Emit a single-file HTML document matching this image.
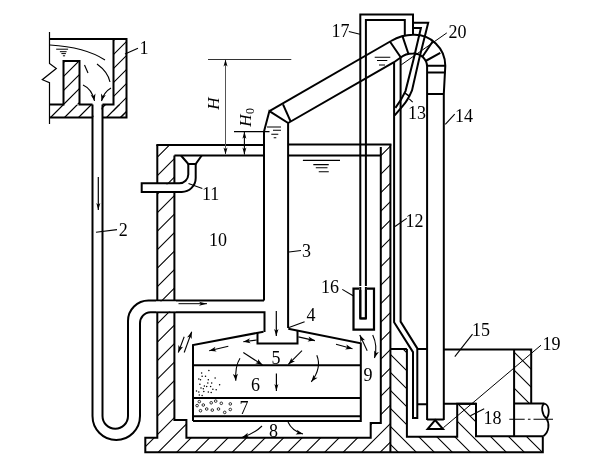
<!DOCTYPE html>
<html><head><meta charset="utf-8"><style>
html,body{margin:0;padding:0;background:#fff;}
svg{display:block;will-change:transform;}
text{font-family:"Liberation Serif",serif;fill:#000;stroke:none;}
</style></head><body>
<svg width="600" height="470" viewBox="0 0 600 470">
<defs><clipPath id="c1"><polygon points="113.5,39 126.5,39 126.5,117.5 113.5,117.5"/></clipPath><clipPath id="c2"><polygon points="49.5,104.5 126.5,104.5 126.5,117.5 49.5,117.5"/></clipPath><clipPath id="c3"><polygon points="63.5,61 79.5,61 79.5,104.5 63.5,104.5"/></clipPath><clipPath id="c4"><polygon points="157.3,145 174.4,145 174.4,420 186.4,420 186.4,437.7 370.7,437.7 370.7,423 380.8,423 380.8,144.4 390.4,144.4 390.4,452.2 145.3,452.2 145.3,437.7 157.3,437.7"/></clipPath><clipPath id="c5"><polygon points="390.4,349.1 406.9,349.1 406.9,436.7 457.2,436.7 457.2,403.8 476,403.8 476,436.2 542.8,436.2 542.8,452.2 390.4,452.2"/></clipPath><clipPath id="c6"><polygon points="514.1,349.4 531.2,349.4 531.2,403.3 514.1,403.3"/></clipPath></defs>
<rect width="600" height="470" fill="#fff"/>
<g stroke="#000" fill="none" stroke-linecap="butt" stroke-linejoin="miter">
<path d="M49.5,32 V63.5 L56.3,68.5 L42.3,79.7 L49.5,82.7 V124" stroke-width="1.2" fill="none"/>
<path d="M101,39 L22.5,117.5 M115,39 L36.5,117.5 M129,39 L50.5,117.5 M143,39 L64.5,117.5 M157,39 L78.5,117.5 M171,39 L92.5,117.5 M185,39 L106.5,117.5 M199,39 L120.5,117.5 M213,39 L134.5,117.5" stroke-width="1.1" clip-path="url(#c1)"/>
<path d="M49.5,104.5 L36.5,117.5 M63.5,104.5 L50.5,117.5 M77.5,104.5 L64.5,117.5 M91.5,104.5 L78.5,117.5 M105.5,104.5 L92.5,117.5 M119.5,104.5 L106.5,117.5 M133.5,104.5 L120.5,117.5 M147.5,104.5 L134.5,117.5" stroke-width="1.1" clip-path="url(#c2)"/>
<path d="M51,61 L7.5,104.5 M65,61 L21.5,104.5 M79,61 L35.5,104.5 M93,61 L49.5,104.5 M107,61 L63.5,104.5 M121,61 L77.5,104.5 M135,61 L91.5,104.5" stroke-width="1.1" clip-path="url(#c3)"/>
<rect x="93.5" y="103.5" width="8" height="15" fill="#fff" stroke="none"/>
<path d="M49.5,39 H126.5 V117.5 H102.5 M92.5,117.5 H49.5" stroke-width="2" fill="none"/>
<path d="M49.5,104.5 H63.5 V61 H79.5 V104.5 H92.5 M102.5,104.5 H113.5 V39" stroke-width="2" fill="none"/>
<path d="M50,45 Q85,47 105,60" stroke-width="1.1" fill="none"/>
<path d="M56.2,49.2 H68.1 M59.9,51.7 H66.6 M61.4,53.6 H65.9 M62.9,55.8 H65.1" stroke-width="1" fill="none"/>
<path d="M84.5,65 L88,73" stroke-width="1.1" fill="none"/>
<path d="M97,64 Q108,72 110,82" stroke-width="1.1" fill="none"/>
<path d="M83,85 Q92,89 94.5,101" stroke-width="1.1" fill="none"/>
<path d="M94.5,101.0 L90.6,94.7 L93.4,95.9 L95.5,93.6 Z" fill="#000" stroke="none"/>
<path d="M111,88 Q104,92 101.5,101" stroke-width="1.1" fill="none"/>
<path d="M101.5,101.0 L101.0,93.6 L102.9,95.9 L105.8,94.9 Z" fill="#000" stroke="none"/>
<line x1="125" y1="54" x2="138" y2="48.3" stroke-width="1.1"/>
<text x="139.5" y="54" font-size="18" text-anchor="start">1</text>
<path d="M92.5,104.5 V416 A23.75,24 0 0 0 140,416 V324 A10.5,11.3 0 0 1 150.5,312.2 H264.5 V332" stroke-width="2" fill="none"/>
<path d="M102.5,104.5 V416 A12.75,12.75 0 0 0 128,416 V321 A20.5,20.5 0 0 1 148.5,300.5 H264" stroke-width="2" fill="none"/>
<line x1="98.3" y1="177" x2="98.3" y2="210" stroke-width="1.2"/>
<path d="M98.3,210.0 L96.3,203.0 L98.3,204.8 L100.3,203.0 Z" fill="#000" stroke="none"/>
<line x1="96" y1="232.3" x2="117" y2="229.6" stroke-width="1.1"/>
<text x="118.7" y="235.6" font-size="18" text-anchor="start">2</text>
<path d="M133.1,144.4 L-174.7,452.2 M151.6,144.4 L-156.2,452.2 M170.1,144.4 L-137.7,452.2 M188.6,144.4 L-119.19999999999999,452.2 M207.1,144.4 L-100.69999999999999,452.2 M225.6,144.4 L-82.19999999999999,452.2 M244.1,144.4 L-63.69999999999999,452.2 M262.6,144.4 L-45.19999999999999,452.2 M281.1,144.4 L-26.69999999999999,452.2 M299.6,144.4 L-8.199999999999989,452.2 M318.1,144.4 L10.300000000000011,452.2 M336.6,144.4 L28.80000000000001,452.2 M355.1,144.4 L47.30000000000001,452.2 M373.6,144.4 L65.80000000000001,452.2 M392.1,144.4 L84.30000000000001,452.2 M410.6,144.4 L102.80000000000001,452.2 M429.1,144.4 L121.30000000000001,452.2 M447.6,144.4 L139.8,452.2 M466.1,144.4 L158.3,452.2 M484.6,144.4 L176.8,452.2 M503.1,144.4 L195.3,452.2 M521.6,144.4 L213.8,452.2 M540.1,144.4 L232.3,452.2 M558.6,144.4 L250.8,452.2 M577.1,144.4 L269.3,452.2 M595.6,144.4 L287.8,452.2 M614.1,144.4 L306.3,452.2 M632.6,144.4 L324.8,452.2 M651.1,144.4 L343.3,452.2 M669.6,144.4 L361.8,452.2 M688.1,144.4 L380.3,452.2 M706.6,144.4 L398.8,452.2" stroke-width="1.1" clip-path="url(#c4)"/>
<rect x="156" y="301.5" width="20" height="9.7" fill="#fff" stroke="none"/>
<rect x="156" y="184.3" width="20" height="7" fill="#fff" stroke="none"/>
<path d="M156.3,145 H264 M288,144.4 H391.4" stroke-width="2" fill="none"/>
<path d="M174.4,155.5 H264 M288,155.5 H380.8" stroke-width="2" fill="none"/>
<path d="M157.3,145 V183.3 M157.3,192 V300.5 M157.3,312.2 V437.7 H145.3 V452.2 H542.8 V436.4" stroke-width="2" fill="none"/>
<path d="M174.4,155.5 V183.3 M174.4,192 V300.5 M174.4,312.2 V420 H186.4 V437.7 H370.7 V423 H380.8 V147" stroke-width="2" fill="none"/>
<path d="M390.4,144.4 V452.2" stroke-width="2" fill="none"/>
<path d="M181,155.5 L188.3,164 H195.7 L201.7,155.5" stroke-width="2" fill="none"/>
<path d="M188.3,164 V174.5 A9,9 0 0 1 179.3,183.3 H141.7 V192 H181.7 A14,14 0 0 0 195.7,178 V164" stroke-width="2" fill="none"/>
<line x1="188.5" y1="183.5" x2="202.3" y2="188.4" stroke-width="1.1"/>
<text x="202" y="200.3" font-size="18" text-anchor="start">11</text>
<text x="209" y="245.8" font-size="18" text-anchor="start">10</text>
<path d="M264,131.5 L269.4,111.1 L288.1,123 V328" stroke-width="2" fill="none"/>
<path d="M264,131.5 V300.5" stroke-width="2" fill="none"/>
<path d="M283,104.3 L290.6,121.3" stroke-width="2" fill="none"/>
<line x1="234" y1="131.6" x2="269.5" y2="131.6" stroke-width="1.1"/>
<path d="M267,127 H281 M273,130.3 H281 M271.3,134.3 H278.3 M273.7,137.7 H276.3" stroke-width="1.1" fill="none"/>
<path d="M302.9,160.4 H340 M313.3,164.6 H328.75 M315.8,167.7 H327.5 M318.75,171.8 H328.75" stroke-width="1.1" fill="none"/>
<line x1="289" y1="252" x2="301" y2="250.5" stroke-width="1.1"/>
<text x="302" y="256.5" font-size="18" text-anchor="start">3</text>
<line x1="208" y1="59.5" x2="291.3" y2="59.5" stroke-width="1" stroke="#333"/>
<line x1="225.5" y1="60" x2="225.5" y2="154" stroke-width="1" stroke="#555"/>
<path d="M225.5,59.5 L227.5,66.5 L225.5,64.8 L223.5,66.5 Z" fill="#000" stroke="none"/>
<path d="M225.5,154.5 L223.5,147.5 L225.5,149.2 L227.5,147.5 Z" fill="#000" stroke="none"/>
<line x1="244.4" y1="143" x2="244.4" y2="131.8" stroke-width="1.1"/>
<path d="M244.4,131.8 L246.4,138.8 L244.4,137.1 L242.4,138.8 Z" fill="#000" stroke="none"/>
<line x1="244.4" y1="143" x2="244.4" y2="154.5" stroke-width="1.1"/>
<path d="M244.4,154.5 L242.4,147.5 L244.4,149.2 L246.4,147.5 Z" fill="#000" stroke="none"/>
<text x="219" y="103.5" font-size="17" font-style="italic" transform="rotate(-90 219 103.5)" text-anchor="middle">H</text>
<text x="251" y="120.5" font-size="17" font-style="italic" transform="rotate(-90 251 120.5)" text-anchor="middle">H</text>
<text x="254" y="111" font-size="12" transform="rotate(-90 254 111)" text-anchor="middle">0</text>
<path d="M269.4,111.1 L391,41" stroke-width="2" fill="none"/>
<path d="M288.1,123 L394,62.2 L400.7,57.5" stroke-width="2" fill="none"/>
<path d="M391,41 C398,37 404,34.8 413,34.8 A31,31 0 0 1 445.3,65.8 L443.8,94 V420" stroke-width="2" fill="none"/>
<path d="M400.7,57.5 C404,54.5 408,53.4 413,53.4 A13.5,13.5 0 0 1 427.1,66.5 V420" stroke-width="2" fill="none"/>
<path d="M389.9,41.5 L400.7,57.2 M402.3,35.6 L408.3,53.5 M432.7,41.5 L422.4,56.7 M440.3,52.9 L425.6,61 M427.1,65.8 H445.3 M427.1,72.4 H445.3 M427.1,94.1 H443.8" stroke-width="2" fill="none"/>
<path d="M374.7,57.3 H390.3 M377,60.5 H387.3 M379,65 H385" stroke-width="1.1" fill="none"/>
<path d="M427.1,419.5 H443.8" stroke-width="2" fill="none"/>
<path d="M435.1,420.1 L427.6,429.1 H443 Z" stroke-width="2" fill="none"/>
<line x1="445.3" y1="124.3" x2="454.7" y2="114.2" stroke-width="1.1"/>
<text x="455" y="121.8" font-size="18" text-anchor="start">14</text>
<path d="M360.3,318.4 V14.6 H413 V34.7" stroke-width="2" fill="none"/>
<path d="M365.9,318.4 V20 H404.8 V35" stroke-width="2" fill="none"/>
<path d="M360.3,318.4 H365.9" stroke-width="2" fill="none"/>
<path d="M413,22.8 H428.2 L418.9,60 L412,90.4 Q408,100 403,105.7 L394.7,115.4" stroke-width="2" fill="none"/>
<path d="M413,27.9 H420.9 L413.4,60 L405.5,91.1 Q402,99 395.4,107.8" stroke-width="2" fill="none"/>
<line x1="405" y1="93.2" x2="410" y2="96.7" stroke-width="1.5"/>
<line x1="409.2" y1="98.8" x2="412.7" y2="102.2" stroke-width="1.1"/>
<text x="408" y="119.3" font-size="18" text-anchor="start">13</text>
<line x1="401.3" y1="64.8" x2="446.8" y2="32.9" stroke-width="1"/>
<text x="448.5" y="38" font-size="18" text-anchor="start">20</text>
<line x1="348.8" y1="31.5" x2="360" y2="34.2" stroke-width="1.1"/>
<text x="331.5" y="37" font-size="18" text-anchor="start">17</text>
<path d="M353.5,288.6 H374 V329.6 H353.5 Z" stroke-width="2.2" fill="none"/>
<rect x="359" y="286" width="8" height="4" fill="#fff" stroke="none"/>
<path d="M360.3,287 V318.4 H365.9 V287" stroke-width="2" fill="none"/>
<line x1="342.3" y1="289.4" x2="353.5" y2="296" stroke-width="1.1"/>
<text x="321" y="293" font-size="18" text-anchor="start">16</text>
<path d="M394.1,62.2 V322.3 L413,352.1 V418 H417.3 V348.4 L400.6,321.6 V57.5" stroke-width="2" fill="none"/>
<line x1="395" y1="226.5" x2="406.7" y2="218.4" stroke-width="1.1"/>
<text x="405.5" y="227" font-size="18" text-anchor="start">12</text>
<path d="M277.1,349.1 L380.2,452.2 M295.1,349.1 L398.2,452.2 M313.1,349.1 L416.2,452.2 M331.1,349.1 L434.2,452.2 M349.1,349.1 L452.2,452.2 M367.1,349.1 L470.2,452.2 M385.1,349.1 L488.2,452.2 M403.1,349.1 L506.2,452.2 M421.1,349.1 L524.2,452.2 M439.1,349.1 L542.2,452.2 M457.1,349.1 L560.2,452.2 M475.1,349.1 L578.2,452.2 M493.1,349.1 L596.2,452.2 M511.1,349.1 L614.2,452.2 M529.1,349.1 L632.2,452.2 M547.1,349.1 L650.2,452.2" stroke-width="1.1" clip-path="url(#c5)"/>
<path d="M457.4,349.4 L511.3,403.3 M475.4,349.4 L529.3,403.3 M493.4,349.4 L547.3,403.3 M511.4,349.4 L565.3,403.3 M529.4,349.4 L583.3,403.3 M547.4,349.4 L601.3,403.3" stroke-width="1.1" clip-path="url(#c6)"/>
<path d="M390.4,349.1 H406.9 M417.3,349.1 H427.1 M443.8,349.4 H531.2 V403.3 M514.1,403.4 H544.4 M514.1,349.4 V436.2" stroke-width="2" fill="none"/>
<path d="M406.9,349.1 V436.7 H457.2 V403.8 H476 V436.2 H543.3" stroke-width="2" fill="none"/>
<path d="M417.3,404.2 H427.1 M443.8,403.8 H476" stroke-width="2" fill="none"/>
<path d="M544.4,403.5 C549.5,405 550,414 546.5,418.5 C542,415 540.5,406 544.4,403.5 M546.5,418.5 C549.5,423 549.5,432 543.3,436.2" stroke-width="1.8" fill="none"/>
<path d="M509.3,419.3 H524.7 M527.9,419.3 H530.5 M533.5,419.3 H553" stroke-width="1.1" fill="none"/>
<line x1="454.8" y1="356.7" x2="472.5" y2="334.2" stroke-width="1.1"/>
<text x="472" y="336" font-size="18" text-anchor="start">15</text>
<line x1="443.4" y1="427.7" x2="541" y2="345.2" stroke-width="1"/>
<text x="542.5" y="350.3" font-size="18" text-anchor="start">19</text>
<line x1="470.4" y1="415.7" x2="484.2" y2="408.8" stroke-width="1.1"/>
<text x="483.5" y="423.5" font-size="18" text-anchor="start">18</text>
<path d="M193,421 V345 L263.5,331.7" stroke-width="2" fill="none"/>
<path d="M288.3,328.7 L360.8,343.3 V421 H193" stroke-width="2" fill="none"/>
<path d="M257.5,332 V343.5 H297.5 V330.5" stroke-width="2" fill="none"/>
<line x1="193" y1="365.3" x2="360.8" y2="365.3" stroke-width="2"/>
<line x1="193" y1="398" x2="360.8" y2="398" stroke-width="2"/>
<line x1="193" y1="416.2" x2="360.8" y2="416.2" stroke-width="2"/>
<text x="271.5" y="363.8" font-size="18" text-anchor="start">5</text>
<text x="251" y="390.5" font-size="18" text-anchor="start">6</text>
<text x="239.5" y="414.2" font-size="18" text-anchor="start">7</text>
<text x="269" y="437.3" font-size="18" text-anchor="start">8</text>
<text x="363.5" y="381.3" font-size="18" text-anchor="start">9</text>
<line x1="289" y1="327.6" x2="304.6" y2="321.7" stroke-width="1.1"/>
<text x="306.5" y="321" font-size="18" text-anchor="start">4</text>
<line x1="178.5" y1="303.7" x2="207" y2="303.7" stroke-width="1"/>
<path d="M207.0,303.7 L199.0,305.7 L201.0,303.7 L199.0,301.7 Z" fill="#000" stroke="none"/>
<line x1="276.3" y1="311" x2="276.3" y2="336" stroke-width="1.2"/>
<path d="M276.3,336.0 L274.1,329.0 L276.3,330.8 L278.5,329.0 Z" fill="#000" stroke="none"/>
<line x1="184.2" y1="336.7" x2="178.3" y2="352.5" stroke-width="1.1"/>
<path d="M178.3,352.5 L178.4,345.1 L180.1,347.6 L183.1,346.8 Z" fill="#000" stroke="none"/>
<line x1="184.2" y1="352.5" x2="191.7" y2="331.7" stroke-width="1.1"/>
<path d="M191.7,331.7 L191.7,339.1 L189.9,336.6 L187.0,337.4 Z" fill="#000" stroke="none"/>
<line x1="256.7" y1="340" x2="243.3" y2="341.7" stroke-width="1.1"/>
<path d="M243.3,341.7 L249.9,338.3 L248.5,341.0 L250.6,343.3 Z" fill="#000" stroke="none"/>
<line x1="228.3" y1="346.3" x2="209.2" y2="350.8" stroke-width="1.1"/>
<path d="M209.2,350.8 L215.4,346.8 L214.3,349.6 L216.6,351.6 Z" fill="#000" stroke="none"/>
<line x1="243.3" y1="352.5" x2="262.5" y2="365" stroke-width="1.1"/>
<path d="M262.5,365.0 L255.3,363.3 L258.1,362.1 L258.0,359.1 Z" fill="#000" stroke="none"/>
<path d="M240,358.3 Q235,366 235.8,380.8" stroke-width="1.1" fill="none"/>
<path d="M235.8,380.8 L232.9,373.9 L235.5,375.6 L237.9,373.7 Z" fill="#000" stroke="none"/>
<line x1="298.4" y1="336.9" x2="314.9" y2="340.6" stroke-width="1.1"/>
<path d="M314.9,340.6 L307.5,341.5 L309.8,339.5 L308.6,336.6 Z" fill="#000" stroke="none"/>
<line x1="336" y1="344.3" x2="352.5" y2="348.8" stroke-width="1.1"/>
<path d="M352.5,348.8 L345.1,349.4 L347.4,347.4 L346.4,344.5 Z" fill="#000" stroke="none"/>
<line x1="302" y1="350.7" x2="288.3" y2="364.4" stroke-width="1.1"/>
<path d="M288.3,364.4 L291.5,357.7 L292.0,360.7 L295.0,361.2 Z" fill="#000" stroke="none"/>
<path d="M316.8,355.3 Q322,368 311.3,381.8" stroke-width="1.1" fill="none"/>
<path d="M311.3,381.8 L313.6,374.7 L314.5,377.7 L317.6,377.8 Z" fill="#000" stroke="none"/>
<line x1="276.4" y1="373.6" x2="276.4" y2="391" stroke-width="1.2"/>
<path d="M276.4,391.0 L274.4,384.0 L276.4,385.8 L278.4,384.0 Z" fill="#000" stroke="none"/>
<line x1="367.2" y1="350.7" x2="359.8" y2="335" stroke-width="1.1"/>
<path d="M359.8,335.0 L365.0,340.3 L362.0,339.7 L360.5,342.4 Z" fill="#000" stroke="none"/>
<path d="M372.7,335 Q378,346 374.5,358" stroke-width="1.1" fill="none"/>
<path d="M374.5,358.0 L374.1,350.6 L376.0,353.0 L378.9,352.0 Z" fill="#000" stroke="none"/>
<path d="M262,426 Q255,433 242,437.4" stroke-width="1.1" fill="none"/>
<path d="M242.0,437.4 L247.8,432.8 L247.0,435.7 L249.4,437.5 Z" fill="#000" stroke="none"/>
<path d="M288,422 Q292,431 303,434" stroke-width="1.1" fill="none"/>
<path d="M303.0,434.0 L295.6,434.6 L297.9,432.6 L296.9,429.7 Z" fill="#000" stroke="none"/>
<g fill="#000" stroke="none"><circle cx="208.9" cy="370.6" r="0.75"/><circle cx="201.6" cy="372.9" r="0.75"/><circle cx="202.1" cy="376.3" r="0.75"/><circle cx="205.5" cy="376.3" r="0.75"/><circle cx="198.8" cy="379.1" r="0.75"/><circle cx="200.5" cy="379.7" r="0.75"/><circle cx="208.3" cy="379.7" r="0.75"/><circle cx="215.1" cy="378.0" r="0.75"/><circle cx="207.8" cy="383.0" r="0.75"/><circle cx="211.7" cy="383.0" r="0.75"/><circle cx="199.9" cy="384.2" r="0.75"/><circle cx="219.6" cy="384.7" r="0.75"/><circle cx="204.4" cy="385.9" r="0.75"/><circle cx="206.7" cy="386.4" r="0.75"/><circle cx="210.6" cy="386.4" r="0.75"/><circle cx="212.9" cy="389.2" r="0.75"/><circle cx="216.2" cy="389.8" r="0.75"/><circle cx="201.0" cy="388.1" r="0.75"/><circle cx="203.3" cy="388.7" r="0.75"/><circle cx="196.5" cy="390.9" r="0.75"/><circle cx="198.8" cy="392.1" r="0.75"/><circle cx="203.8" cy="391.5" r="0.75"/><circle cx="208.3" cy="392.1" r="0.75"/><circle cx="211.2" cy="392.6" r="0.75"/><circle cx="199.3" cy="394.9" r="0.75"/><circle cx="202.1" cy="395.4" r="0.75"/></g>
<g fill="none" stroke-width="0.8"><circle cx="199.3" cy="401.6" r="1.3"/><circle cx="197.1" cy="405.6" r="1.3"/><circle cx="203.3" cy="405" r="1.3"/><circle cx="211.2" cy="402.8" r="1.3"/><circle cx="215.7" cy="401.1" r="1.3"/><circle cx="221.3" cy="403.3" r="1.3"/><circle cx="230.3" cy="403.9" r="1.3"/><circle cx="200.5" cy="410.7" r="1.3"/><circle cx="206.7" cy="409" r="1.3"/><circle cx="212.3" cy="410.1" r="1.3"/><circle cx="218.5" cy="409" r="1.3"/><circle cx="224.7" cy="412.4" r="1.3"/><circle cx="230.3" cy="409.5" r="1.3"/></g>
</g>
</svg>
</body></html>
